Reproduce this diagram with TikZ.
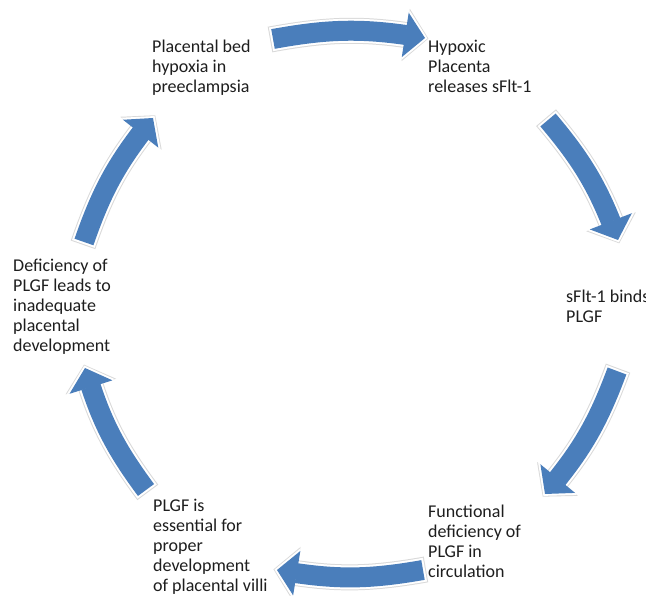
\documentclass[tikz,border=0pt]{standalone}
\usepackage{fontspec}
\setmainfont{Carlito}
\usetikzlibrary{arrows.meta,bending}
\definecolor{arrowblue}{RGB}{74,126,187}
\definecolor{txt}{RGB}{30,30,30}
\newcommand\lbl[1]{\begin{tabular}[t]{@{}l@{}}#1\end{tabular}}
\begin{document}
\begin{tikzpicture}[x=1pt,y=1pt,
  lab/.style={anchor=base west, inner sep=0pt, text=txt, font=\fontsize{18}{19.8}\selectfont},
  cyc/.style={line width=20pt, draw=arrowblue, -{Triangle[width=45pt,length=20pt,line width=0pt]},
     preaction={draw=gray!30, line width=26pt, shorten <=-3pt, shorten >=-3.5pt, -{Triangle[width=53pt,length=23pt,line width=0pt]}},
     preaction={draw=white, line width=24pt, shorten <=-2pt, shorten >=-2.5pt, -{Triangle[width=50pt,length=22pt,line width=0pt]}}}]
\fill[white] (0,0) rectangle (646,596);
\useasboundingbox (0,0) rectangle (646,596);

\node[lab] (n1) at (152,543) {\lbl{Placental bed\\hypoxia in\\preeclampsia}};
\node[lab] (n2) at (428,543) {\lbl{Hypoxic\\Placenta\\releases sFlt-1}};
\node[lab] (n3) at (566,293) {\lbl{sFlt-1 binds\\PLGF}};
\node[lab] (n4) at (428,78) {\lbl{Functional\\deficiency of\\PLGF in\\circulation}};
\node[lab] (n5) at (153,84) {\lbl{PLGF is\\essential for\\proper\\development\\of placental villi}};
\node[lab] (n6) at (13,324) {\lbl{Deficiency of\\PLGF leads to\\inadequate\\placental\\development}};

\coordinate (t1) at (273,557); \coordinate (h1) at (425,558);
\coordinate (t2) at (548,476); \coordinate (h2) at (618,356);
\coordinate (t3) at (617,225); \coordinate (h3) at (545,102);
\coordinate (t4) at (423,26);  \coordinate (h4) at (277,26);
\coordinate (t5) at (146,106); \coordinate (h5) at (85,228);
\coordinate (t6) at (84,354);  \coordinate (h6) at (153,478);

\draw[cyc] (t1) to[bend left=10] (h1);
\draw[cyc] (t2) to[bend left=10] (h2);
\draw[cyc] (t3) to[bend left=10] (h3);
\draw[cyc] (t4) to[bend left=10] (h4);
\draw[cyc] (t5) to[bend left=10] (h5);
\draw[cyc] (t6) to[bend left=10] (h6);
\end{tikzpicture}
\end{document}
